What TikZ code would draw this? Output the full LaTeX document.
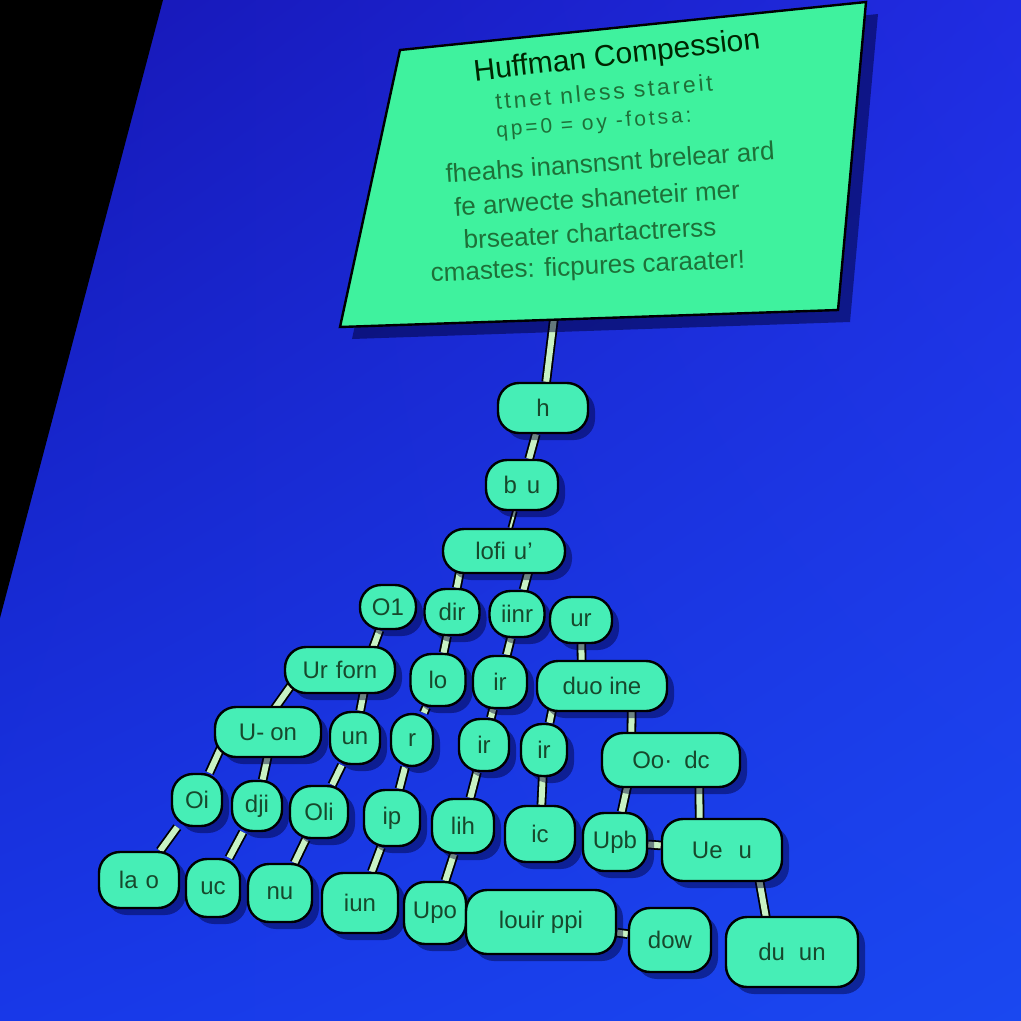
\documentclass[tikz,border=0pt]{standalone}
\usepackage{fontspec}
\setmainfont{Liberation Sans}
\usetikzlibrary{shadows,backgrounds,shadings}
\definecolor{panelfill}{HTML}{3FF29E}
\definecolor{nodefill}{HTML}{46EEB6}
\definecolor{edgefill}{HTML}{C8F2C4}
\definecolor{txtdark}{HTML}{17482C}
\definecolor{txtgreen}{HTML}{1E7038}
\definecolor{bgul}{HTML}{1616B4}
\definecolor{bgur}{HTML}{202CE2}
\definecolor{bgll}{HTML}{1838E8}
\definecolor{bglr}{HTML}{1A48F0}
\pgfdeclarelayer{bg}
\pgfsetlayers{bg,background,main}
\tikzset{
  nd/.style={draw=black, line width=2.4pt, fill=nodefill, rounded corners=21pt,
    inner sep=2pt, text=txtdark, font=\fontsize{24}{26}\selectfont,
    drop shadow={shadow xshift=7pt, shadow yshift=-7pt, fill=black!80!blue, opacity=0.45}},
  edge/.style={line width=1.8pt, draw=black, double=edgefill, double distance=6pt},
  ptxt/.style={text=txtgreen, font=\fontsize{26}{28}\selectfont, inner sep=0pt}
}
\newcommand{\hn}[6]{\node[nd,minimum width=#4pt,minimum height=#5pt] (#1) at (#2,#3) {#6};}
\begin{document}
\begin{tikzpicture}[x=1pt,y=-1pt]
\useasboundingbox (0,0) rectangle (1021,1021);
\begin{pgfonlayer}{bg}
  \shade[upper left=bgul, upper right=bgur, lower left=bgll, lower right=bglr]
    (0,0) rectangle (1021,1021);
  \fill[black] (0,0) -- (163,0) -- (0,618) -- cycle;
\end{pgfonlayer}
% panel
\fill[black!80!blue, opacity=0.5] (412,62) -- (878,14) -- (850,322) -- (352,339) -- cycle;
\draw[line width=2.4pt, fill=panelfill] (400,50) -- (866,2) -- (838,310) -- (340,327) -- cycle;
\node[text=black!85!green, font=\fontsize{30}{32}\selectfont, rotate=6.5, inner sep=0pt] (title) at (617,57) {Huffman Compession};
\node[ptxt, font=\fontsize{23}{25}\selectfont\addfontfeature{LetterSpace=12}, rotate=5] (l1) at (604,92) {ttnet nless stareit};
\node[ptxt, font=\fontsize{21}{23}\selectfont\addfontfeature{LetterSpace=14}, rotate=4.5] (l2) at (594,124) {qp=0 = oy -fotsa:};
\node[ptxt, rotate=4] (l3) at (610,162) {fheahs inansnsnt brelear ard};
\node[ptxt, rotate=3.5] (l4) at (597,198) {fe arwecte shaneteir mer};
\node[ptxt, rotate=3] (l5) at (590,233) {brseater chartactrerss};
\node[ptxt, rotate=2.5] (l6) at (588,268) {cmastes: ficpures caraater!};
\coordinate (pb) at (554,318);
% nodes
\hn{h}{543}{408}{90}{50}{h}
\hn{bu}{522}{485}{72}{50}{b\hspace{10pt}u}
\hn{lofi}{504}{551}{122}{44}{lofi\hspace{8pt}u'}
\hn{o1}{388}{607}{56}{44}{O1}
\hn{dir}{452}{612}{55}{46}{dir}
\hn{iinr}{517}{614}{55}{46}{iinr}
\hn{ur}{581}{620}{62}{46}{ur}
\hn{urforn}{340}{670}{110}{46}{Ur\hspace{8pt}forn}
\hn{lo}{438}{680}{55}{52}{lo}
\hn{ir1}{500}{682}{54}{52}{ir}
\hn{duo}{602}{686}{130}{50}{duo ine}
\hn{uon}{268}{732}{106}{50}{U-\hspace{6pt}on}
\hn{un}{355}{738}{50}{52}{un}
\hn{r}{412}{740}{42}{52}{r}
\hn{ir2}{484}{745}{50}{52}{ir}
\hn{ir3}{544}{750}{46}{52}{ir}
\hn{oodc}{671}{760}{138}{54}{Oo·\hspace{12pt}dc}
\hn{oi}{197}{800}{50}{52}{Oi}
\hn{dji}{257}{806}{50}{50}{dji}
\hn{oli}{319}{812}{58}{52}{Oli}
\hn{ip}{392}{818}{56}{56}{ip}
\hn{lih}{463}{826}{62}{54}{lih}
\hn{ic}{540}{834}{70}{56}{ic}
\hn{upb}{615}{842}{64}{58}{Upb}
\hn{ueu}{722}{850}{120}{62}{Ue\hspace{16pt}u}
\hn{lao}{139}{880}{80}{56}{la\hspace{8pt}o}
\hn{uc}{213}{888}{54}{58}{uc}
\hn{nu}{280}{893}{64}{58}{nu}
\hn{iun}{360}{903}{76}{60}{iun}
\hn{upo}{435}{913}{62}{62}{Upo}
\hn{louir}{541}{922}{150}{64}{louir ppi}
\hn{dow}{670}{940}{82}{64}{dow}
\hn{duun}{792}{952}{132}{70}{du\hspace{14pt}un}
% edges
\begin{pgfonlayer}{background}
\draw[edge] (pb) -- (h);
\draw[edge] (h) -- (bu);
\draw[edge, double distance=2pt] (bu) -- (lofi);
\draw[edge] ([xshift=-40pt]lofi.center) -- (dir);
\draw[edge] ([xshift=30pt]lofi.center) -- (iinr);
\draw[edge] (o1) -- ([xshift=25pt]urforn.center);
\draw[edge] (dir) -- (lo);
\draw[edge] (iinr) -- (ir1);
\draw[edge] (ur) -- ([xshift=-20pt]duo.center);
\draw[edge] ([xshift=-38pt]urforn.center) -- ([xshift=-10pt]uon.center);
\draw[edge] ([xshift=28pt]urforn.center) -- (un);
\draw[edge] (lo) -- (r);
\draw[edge] (ir1) -- (ir2);
\draw[edge] ([xshift=-45pt]duo.center) -- (ir3);
\draw[edge] ([xshift=30pt]duo.center) -- ([xshift=-40pt]oodc.center);
\draw[edge] ([xshift=-40pt]uon.center) -- (oi);
\draw[edge] ([xshift=5pt]uon.center) -- (dji);
\draw[edge] (un) -- (oli);
\draw[edge] (r) -- (ip);
\draw[edge] (ir2) -- (lih);
\draw[edge] (ir3) -- (ic);
\draw[edge] ([xshift=-38pt]oodc.center) -- (upb);
\draw[edge] ([xshift=28pt]oodc.center) -- ([xshift=-22pt]ueu.center);
\draw[edge] (oi) -- (lao);
\draw[edge] (dji) -- (uc);
\draw[edge] (oli) -- (nu);
\draw[edge] (ip) -- (iun);
\draw[edge] (lih) -- (upo);
\draw[edge] (upb) -- (ueu);
\draw[edge] ([xshift=32pt]ueu.center) -- ([xshift=-20pt]duun.center);
\draw[edge] (louir) -- (dow);
\end{pgfonlayer}
\end{tikzpicture}
\end{document}
